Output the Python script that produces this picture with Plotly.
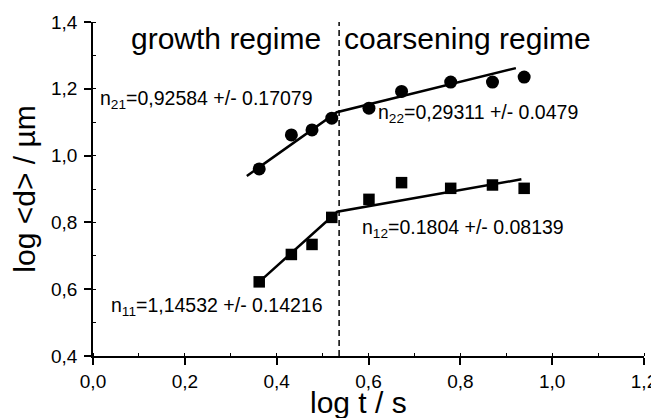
import plotly.graph_objects as go

# ---- data ----
log_t = [0.362, 0.432, 0.477, 0.520, 0.601, 0.672, 0.779, 0.870, 0.939]
d_circle = [0.960, 1.062, 1.077, 1.112, 1.142, 1.192, 1.220, 1.220, 1.235]
d_square = [0.622, 0.704, 0.734, 0.815, 0.869, 0.919, 0.902, 0.912, 0.902]

fit_circle_x = [0.335, 0.531, 0.921]
fit_circle_y = [0.939, 1.130, 1.262]
fit_square_x = [0.362, 0.532, 0.933]
fit_square_y = [0.622, 0.832, 0.929]

boundary_x = 0.536
y_range = [0.4, 1.4]
x_range = [0.0, 1.2]

x_ticks = [0.0, 0.2, 0.4, 0.6, 0.8, 1.0, 1.2]
y_ticks = [0.4, 0.6, 0.8, 1.0, 1.2, 1.4]

x_title = "log t / s"
y_title = "log &lt;d&gt; / µm"

def comma(v):
    return f"{v:.1f}".replace(".", ",")

labels = [
    (0.078, 1.352, "growth regime", 30),
    (0.542, 1.352, "coarsening regime", 30),
    (0.0106, 1.167, "n<sub>21</sub>=0,92584 +/- 0.17079", 19.5),
    (0.617, 1.127, "n<sub>22</sub>=0,29311 +/- 0.0479", 19.5),
    (0.582, 0.782, "n<sub>12</sub>=0.1804 +/- 0.08139", 19.5),
    (0.0346, 0.547, "n<sub>11</sub>=1,14532 +/- 0.14216", 19.5),
]

FONT = "Arial, 'Liberation Sans', sans-serif"

fig = go.Figure()
fig.add_trace(go.Scatter(x=log_t, y=d_square, mode="markers",
                         marker=dict(symbol="square", size=11.5, color="black"),
                         showlegend=False))
fig.add_trace(go.Scatter(x=log_t, y=d_circle, mode="markers",
                         marker=dict(symbol="circle", size=13, color="black"),
                         showlegend=False))
fig.add_trace(go.Scatter(x=fit_square_x, y=fit_square_y, mode="lines",
                         line=dict(color="black", width=2.5), showlegend=False))
fig.add_trace(go.Scatter(x=fit_circle_x, y=fit_circle_y, mode="lines",
                         line=dict(color="black", width=2.5), showlegend=False))
fig.add_trace(go.Scatter(x=[boundary_x, boundary_x], y=y_range, mode="lines",
                         line=dict(color="black", width=1.5, dash="6px,4px"),
                         showlegend=False))

for x, y, t, s in labels:
    fig.add_annotation(x=x, y=y, xref="x", yref="y", text=t, showarrow=False,
                       xanchor="left", yanchor="middle",
                       font=dict(family=FONT, size=s, color="black"))

# x-axis title, set slightly left of centre as in the original
fig.add_annotation(x=0.579, y=-0.14, xref="x", yref="paper", text=x_title,
                   showarrow=False, xanchor="center", yanchor="middle",
                   font=dict(family=FONT, size=30, color="black"))

axis_common = dict(showline=True, linecolor="black", linewidth=1.5,
                   ticks="outside", ticklen=7, tickwidth=1.5, tickcolor="black",
                   showgrid=False, zeroline=False, mirror=False, automargin=False,
                   tickfont=dict(family=FONT, size=19, color="black"),
                   minor=dict(ticks="inside", ticklen=3, tickwidth=1, tickcolor="black", dtick=0.1))

fig.update_xaxes(range=x_range, tickvals=x_ticks, ticktext=[comma(v) for v in x_ticks],
                 **axis_common)
fig.update_yaxes(range=y_range, tickvals=y_ticks, ticktext=[comma(v) for v in y_ticks],
                 ticklabelstandoff=3,
                 title=dict(text=y_title, font=dict(family=FONT, size=30, color="black"), standoff=26),
                 **axis_common)

# the page body adds an 8 px margin, so the figure is sized to fit the window
fig.update_layout(width=651, height=410, margin=dict(l=85, r=15, t=14, b=62),
                  paper_bgcolor="white", plot_bgcolor="white")

fig.write_html("out.html")
